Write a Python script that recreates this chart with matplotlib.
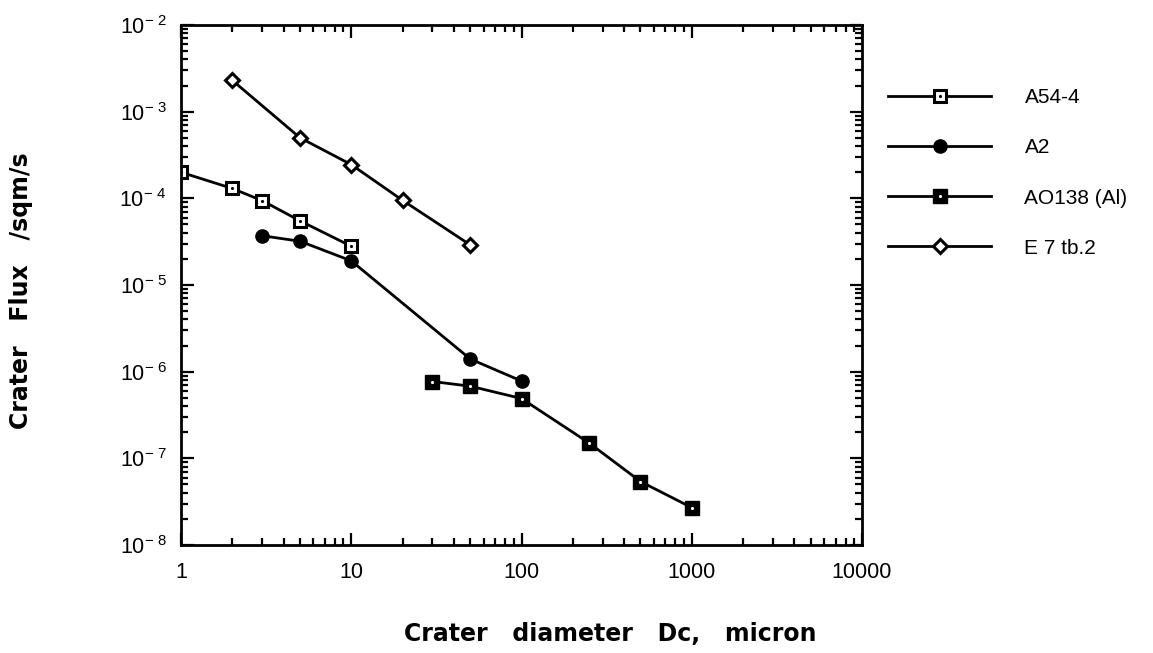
import numpy as np
import matplotlib.pyplot as plt
from matplotlib.ticker import FixedLocator, FixedFormatter, LogLocator, NullFormatter
from matplotlib.legend_handler import HandlerTuple

plt.rcParams['font.family'] = ['Liberation Sans', 'DejaVu Sans']
plt.rcParams['mathtext.fontset'] = 'custom'
plt.rcParams['mathtext.rm'] = 'Liberation Sans'

# crater flux data
a54_d = [1, 2, 3, 5, 10]
a54_f = [2.0e-4, 1.3e-4, 9.4e-5, 5.5e-5, 2.8e-5]

a2_d = [3, 5, 10, 50, 100]
a2_f = [3.7e-5, 3.2e-5, 1.9e-5, 1.4e-6, 7.8e-7]

ao138_d = [30, 50, 100, 250, 500, 1000]
ao138_f = [7.7e-7, 6.8e-7, 4.9e-7, 1.5e-7, 5.4e-8, 2.7e-8]

e7_d = [2, 5, 10, 20, 50]
e7_f = [2.3e-3, 5.0e-4, 2.45e-4, 9.5e-5, 2.9e-5]

xticks = [1, 10, 100, 1000, 10000]
xlabels = ['1', '10', '100', '1000', '10000']
yticks = [1e-8, 1e-7, 1e-6, 1e-5, 1e-4, 1e-3, 1e-2]
ylabels = [r'10$^{\mathregular{-\ %d}}$' % e for e in [8, 7, 6, 5, 4, 3, 2]]

fig = plt.figure(figsize=(11.53, 6.53), dpi=100)
ax = fig.add_axes([181/1153, 1 - 545/653, (862-181)/1153, (545-25)/653])

lw = 2.0
h1 = ax.plot(a54_d, a54_f, 'k-', lw=lw, marker='s', ms=9, mfc='white', mec='k', mew=2.2)[0]
d1 = ax.plot(a54_d, a54_f, 'k.', ms=2.5)[0]
h2 = ax.plot(a2_d, a2_f, 'k-', lw=lw, marker='o', ms=9.5, mfc='k', mec='k')[0]
h3 = ax.plot(ao138_d, ao138_f, 'k-', lw=lw, marker='s', ms=10, mfc='k', mec='k')[0]
d3 = ax.plot(ao138_d, ao138_f, 'w.', ms=2.5)[0]
h4 = ax.plot(e7_d, e7_f, 'k-', lw=lw, marker='D', ms=7.5, mfc='white', mec='k', mew=2.2)[0]

ax.set_xscale('log')
ax.set_yscale('log')
ax.set_xlim(1, 10000)
ax.set_ylim(1e-8, 1e-2)

ax.xaxis.set_major_locator(FixedLocator(xticks))
ax.xaxis.set_major_formatter(FixedFormatter(xlabels))
ax.yaxis.set_major_locator(FixedLocator(yticks))
ax.yaxis.set_major_formatter(FixedFormatter(ylabels))
ax.xaxis.set_minor_locator(LogLocator(base=10, subs=np.arange(2, 10), numticks=20))
ax.yaxis.set_minor_locator(LogLocator(base=10, subs=np.arange(2, 10), numticks=20))
ax.xaxis.set_minor_formatter(NullFormatter())
ax.yaxis.set_minor_formatter(NullFormatter())

ax.tick_params(which='both', direction='in', top=True, right=True, width=1.6)
ax.tick_params(which='major', length=9, labelsize=15.5)
ax.tick_params(axis='x', which='major', pad=12)
ax.tick_params(axis='y', which='major', pad=10)
ax.tick_params(which='minor', length=5)
for s in ax.spines.values():
    s.set_linewidth(2)

ax.set_xlabel('Crater   diameter   Dc,   micron', fontsize=17, fontweight='bold',
              family=['DejaVu Sans'])
ax.set_ylabel('Crater   Flux   /sqm/s', fontsize=17, fontweight='bold',
              family=['DejaVu Sans'])
ax.xaxis.set_label_coords((610 - 181) / 681, (545 - 622) / 520)
ax.yaxis.set_label_coords((33 - 181) / 681, 0.49)

fig.legend([(h1, d1), h2, (h3, d3), h4], ['A54-4', 'A2', 'AO138 (Al)', 'E 7 tb.2'],
           handler_map={tuple: HandlerTuple(ndivide=1)},
           loc='upper left', bbox_to_anchor=(888/1153, 1 - 88/653), frameon=False,
           fontsize=15, numpoints=1, handlelength=4.95, handletextpad=1.6,
           labelspacing=1.5, borderpad=0, borderaxespad=0)

fig.savefig('out.png', dpi=100)
